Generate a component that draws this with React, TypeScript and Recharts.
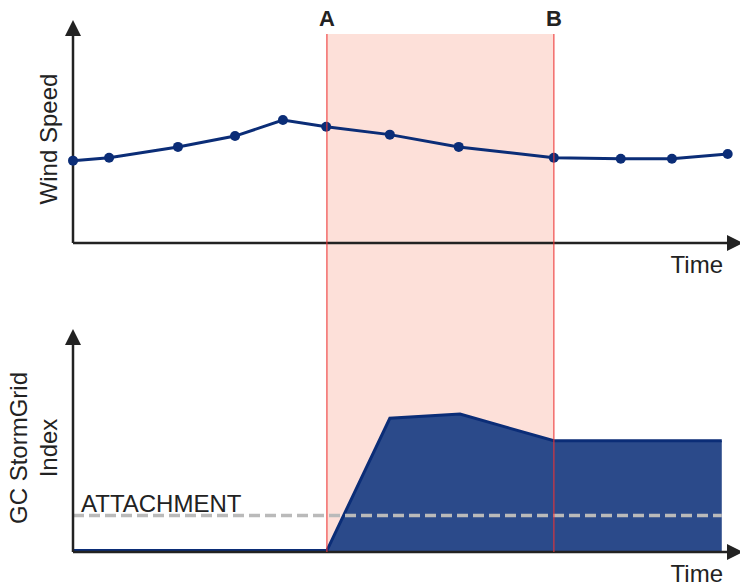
import React from 'react'
import {
  ComposedChart,
  LineChart,
  Line,
  AreaChart,
  Area,
  XAxis,
  YAxis,
  ReferenceArea,
  ReferenceLine,
  ReferenceDot,
  Label,
} from 'recharts'

// time runs 0..100 along both x axes
const windTime = [0, 5.5, 16.0, 24.7, 32.0, 38.6, 48.3, 58.8, 73.3, 83.5, 91.3, 99.8]
const windSpeed = [39.6, 41.0, 46.2, 51.4, 59.1, 55.9, 52.1, 46.2, 41.0, 40.5, 40.5, 42.8]

const indexTime = [0, 38.7, 48.3, 59.0, 73.3, 98.9]
const indexValue = [0.7, 0.7, 64.3, 66.3, 53.5, 53.5]

const eventStart = 38.7
const eventEnd = 73.3
const eventLabels = ['A', 'B']
const attachment = 17.5

const windData = windTime.map((t, i) => ({ t, v: windSpeed[i] }))
const indexData = indexTime.map((t, i) => ({ t, v: indexValue[i] }))

const W = 740
const H = 587
const FONT = '"Liberation Sans", Arial, sans-serif'
const INK = '#222222'
const NAVY = '#0b2d77'

const layer: React.CSSProperties = { position: 'absolute', left: 0, top: 0 }

// rotated axis title, lines given as baseline offsets from the axis box centre
const RotatedTitle = ({ viewBox, lines }: any) => {
  const cx = viewBox.x + viewBox.width / 2
  const cy = viewBox.y + viewBox.height / 2
  return (
    <text
      x={cx}
      y={cy}
      transform={`rotate(-90, ${cx}, ${cy})`}
      textAnchor="middle"
      fontFamily={FONT}
      fontSize={24}
      fill={INK}
    >
      {lines.map((l: any, i: number) => (
        <tspan key={i} x={cx} y={cy + l.d}>
          {l.text}
        </tspan>
      ))}
    </text>
  )
}

const TimeTitle = ({ viewBox }: any) => (
  <text
    x={viewBox.x + viewBox.width - 6}
    y={viewBox.y + 30}
    textAnchor="end"
    fontFamily={FONT}
    fontSize={24}
    fill={INK}
  >
    Time
  </text>
)

const ArrowRight = ({ cx, cy }: any) => (
  <path d={`M${cx - 2} ${cy - 8} L${cx + 14} ${cy} L${cx - 2} ${cy + 8} Z`} fill={INK} />
)

const ArrowUp = ({ cx, cy }: any) => (
  <path d={`M${cx - 8} ${cy + 1} L${cx} ${cy - 15} L${cx + 8} ${cy + 1} Z`} fill={INK} />
)

const AttachmentLabel = ({ viewBox }: any) => (
  <text x={viewBox.x + 8} y={viewBox.y - 4} fontFamily={FONT} fontSize={24} fill={INK}>
    ATTACHMENT
  </text>
)

const EventLabel = ({ viewBox, text }: any) => (
  <text
    x={viewBox.x}
    y={viewBox.y - 8}
    textAnchor="middle"
    fontFamily={FONT}
    fontSize={22}
    fontWeight="bold"
    fill={INK}
  >
    {text}
  </text>
)

const axisLine = { stroke: INK, strokeWidth: 2.5 }
const frameMargin = { top: 34, right: 11, left: 73, bottom: 35 }

export default function App() {
  return (
    <div style={{ position: 'absolute', left: 0, top: 0, width: W, height: H, background: '#fff' }}>
      {/* event window shading */}
      <div style={layer}>
        <ComposedChart width={W} height={H} data={windData} margin={frameMargin}>
          <XAxis dataKey="t" type="number" domain={[0, 100]} hide />
          <YAxis domain={[0, 100]} hide />
          <Line dataKey="v" stroke="none" dot={false} activeDot={false} isAnimationActive={false} />
          <ReferenceArea
            x1={eventStart}
            x2={eventEnd}
            y1={0}
            y2={100}
            fill="#fde0d9"
            fillOpacity={1}
            stroke="none"
            ifOverflow="visible"
          />
        </ComposedChart>
      </div>

      {/* wind speed */}
      <div style={layer}>
        <LineChart width={W} height={H} data={windData} margin={{ top: 35, right: 11, left: 23, bottom: 304 }}>
          <XAxis dataKey="t" type="number" domain={[0, 100]} height={40} tick={false} tickLine={false} axisLine={axisLine}>
            <Label content={<TimeTitle />} />
          </XAxis>
          <YAxis domain={[0, 100]} width={50} tick={false} tickLine={false} axisLine={axisLine}>
            <Label content={<RotatedTitle lines={[{ text: 'Wind Speed', d: 8.5 }]} />} />
          </YAxis>
          <Line
            dataKey="v"
            stroke={NAVY}
            strokeWidth={3}
            dot={{ r: 5, fill: NAVY, stroke: NAVY, strokeWidth: 0 }}
            isAnimationActive={false}
          />
          <ReferenceDot x={100} y={0} shape={<ArrowRight />} />
          <ReferenceDot x={0} y={100} shape={<ArrowUp />} />
        </LineChart>
      </div>

      {/* storm index */}
      <div style={layer}>
        <AreaChart width={W} height={H} data={indexData} margin={{ top: 344, right: 11, left: 23, bottom: 5 }}>
          <XAxis dataKey="t" type="number" domain={[0, 100]} height={30} tick={false} tickLine={false} axisLine={axisLine}>
            <Label content={<TimeTitle />} />
          </XAxis>
          <YAxis domain={[0, 100]} width={50} tick={false} tickLine={false} axisLine={axisLine}>
            <Label
              content={
                <RotatedTitle
                  lines={[
                    { text: 'GC StormGrid', d: -21.5 },
                    { text: 'Index', d: 8.5 },
                  ]}
                />
              }
            />
          </YAxis>
          <Area
            dataKey="v"
            type="linear"
            stroke={NAVY}
            strokeWidth={3}
            fill="#2b4a8a"
            fillOpacity={1}
            isAnimationActive={false}
          />
          <ReferenceLine
            segment={[
              { x: 0, y: attachment },
              { x: indexTime[indexTime.length - 1], y: attachment },
            ]}
            stroke="#bababa"
            strokeWidth={3.5}
            strokeDasharray="11 5"
            label={<AttachmentLabel />}
          />
          <ReferenceDot x={100} y={0} shape={<ArrowRight />} />
          <ReferenceDot x={0} y={100} shape={<ArrowUp />} />
        </AreaChart>
      </div>

      {/* event boundaries */}
      <div style={layer}>
        <ComposedChart width={W} height={H} data={windData} margin={frameMargin}>
          <XAxis dataKey="t" type="number" domain={[0, 100]} hide />
          <YAxis domain={[0, 100]} hide />
          <Line dataKey="v" stroke="none" dot={false} activeDot={false} isAnimationActive={false} />
          {[eventStart, eventEnd].map((x, i) => (
            <ReferenceLine
              key={eventLabels[i]}
              x={x}
              stroke="#ee3333"
              strokeOpacity={0.7}
              strokeWidth={1.5}
              ifOverflow="visible"
              label={<EventLabel text={eventLabels[i]} />}
            />
          ))}
        </ComposedChart>
      </div>
    </div>
  )
}
